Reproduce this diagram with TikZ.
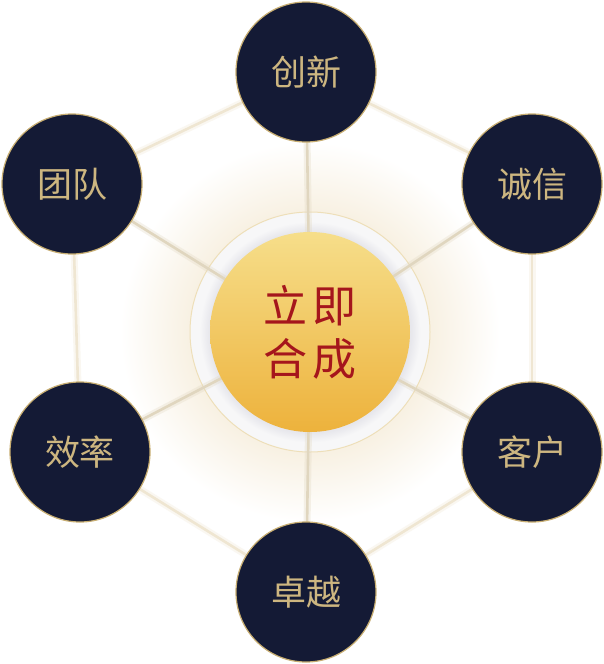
\documentclass[tikz,border=0pt]{standalone}
\usepackage{fontspec}
\newfontfamily\cjk{Noto Sans CJK SC}
\pgfdeclarelayer{glowlayer}
\pgfdeclarelayer{linelayer}
\pgfsetlayers{glowlayer,linelayer,main}
\definecolor{navy}{HTML}{141A35}
\definecolor{goldline}{HTML}{C8AE72}
\definecolor{goldtext}{HTML}{CDB680}
\definecolor{spoke}{HTML}{E0D6BF}
\definecolor{hexc}{HTML}{EFE6D2}
\definecolor{glowc}{HTML}{F8F1E3}
\definecolor{ringc}{HTML}{EEDFB9}
\definecolor{goldtop}{HTML}{F6DE8A}
\definecolor{goldbot}{HTML}{EDB23C}
\definecolor{redtext}{HTML}{A5161C}
\definecolor{haloc}{HTML}{E7E7EC}
\definecolor{halob}{HTML}{F7F7F8}
\pgfdeclareradialshading{glowshade}{\pgfpoint{0bp}{0bp}}{color(0bp)=(glowc); color(16bp)=(glowc); color(25bp)=(white); color(50bp)=(white)}
\pgfdeclareradialshading{haloshade}{\pgfpoint{0bp}{0bp}}{color(0bp)=(haloc); color(21bp)=(haloc); color(23bp)=(halob); color(25bp)=(halob); color(50bp)=(halob)}
\tikzset{
  outer/.style={circle, minimum size=140pt, inner sep=0pt, fill=navy, draw=goldline, line width=1.2pt,
    text=goldtext, font=\cjk\fontsize{35}{40}\selectfont},
  core/.style={circle, minimum size=200pt, inner sep=0pt, top color=goldtop, bottom color=goldbot,
    text=redtext, align=center, font=\cjk\fontsize{44}{53}\selectfont},
  linksoft/.style={line width=7pt, opacity=0.3},
  linkhard/.style={line width=2.6pt},
}
\begin{document}
\begin{tikzpicture}[x=1pt,y=-1pt]
\useasboundingbox (0,0) rectangle (604,664);
\node[core] (c) at (310,332) {立\hspace{6pt}即\\合\hspace{6pt}成};
\node[outer] (n1) at (306,72) {创新};
\node[outer] (n2) at (532,184) {诚信};
\node[outer] (n3) at (532,452) {客户};
\node[outer] (n4) at (306,592) {卓越};
\node[outer] (n5) at (80,452) {效率};
\node[outer] (n6) at (72,184) {团队};
\begin{pgfonlayer}{glowlayer}
  \fill[white] (0,0) rectangle (604,664);
  \shade[shading=glowshade] (c.center) circle[radius=190pt];
  \shade[shading=haloshade] (c.center) circle[radius=120pt];
  \draw[ringc, line width=1pt] (c.center) circle[radius=120pt];
\end{pgfonlayer}
\begin{pgfonlayer}{linelayer}
  \foreach \a/\b in {n1/n2,n2/n3,n3/n4,n4/n5,n5/n6,n6/n1}{
    \draw[linksoft, hexc] (\a.center) -- (\b.center);
    \draw[linkhard, hexc] (\a.center) -- (\b.center);
  }
  \foreach \b in {n1,n2,n3,n4,n5,n6}{
    \draw[linksoft, spoke] (c.center) -- (\b.center);
    \draw[linkhard, spoke] (c.center) -- (\b.center);
  }
\end{pgfonlayer}
\end{tikzpicture}
\end{document}
